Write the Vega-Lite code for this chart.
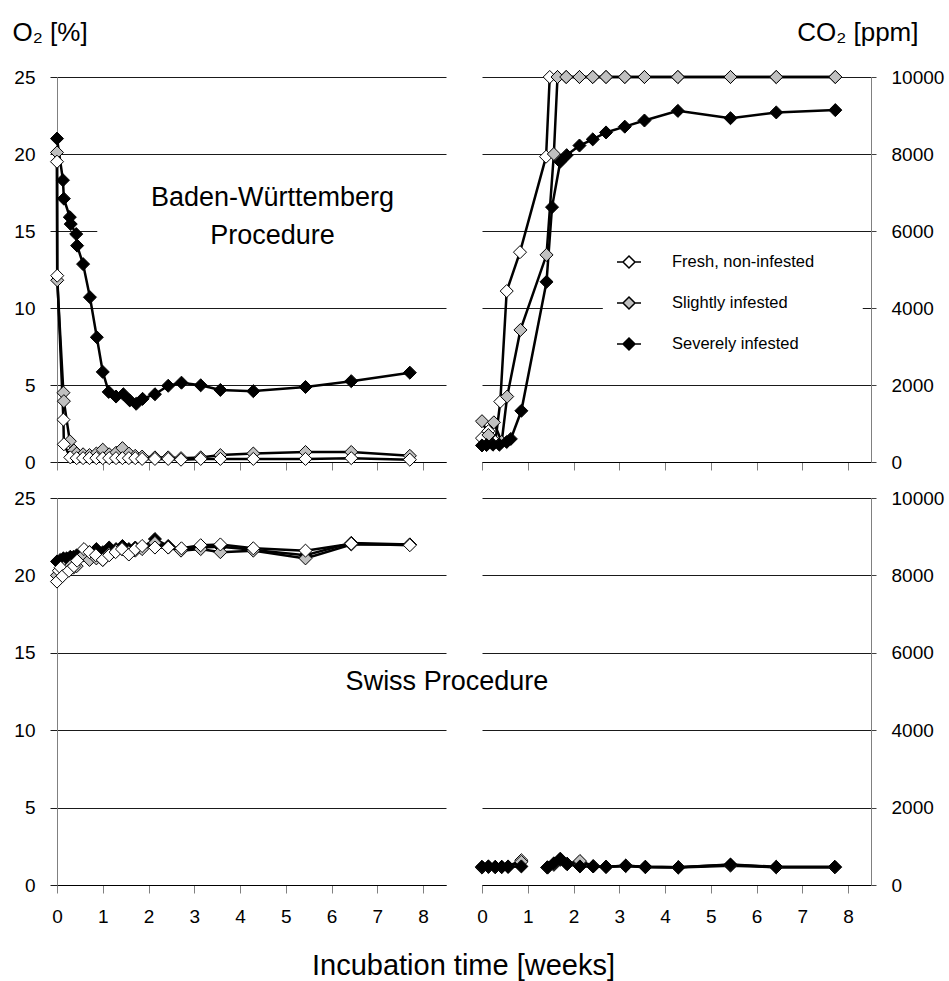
{
  "$schema": "https://vega.github.io/schema/vega-lite/v6.json",
  "padding": {"left": 12, "top": 19, "right": 2, "bottom": 2},
  "config": {
    "view": {"stroke": null},
    "font": "Liberation Sans, Arial, sans-serif",
    "axis": {
      "labelFont": "Liberation Sans, Arial, sans-serif",
      "titleFont": "Liberation Sans, Arial, sans-serif",
      "labelFontSize": 19, "labelColor": "black", "titleColor": "black", "titleFontWeight": "normal",
      "labelFlush": false, "labelOverlap": false, "grid": false,
      "domainColor": "#808080", "tickColor": "#808080", "gridColor": "#1a1a1a", "gridOpacity": 1,
      "domainWidth": 1, "tickWidth": 1, "gridWidth": 1
    }
  },
  "datasets": {
    "boxes": [
      {"panel": "BW_O2", "week": 0.88, "week2": 8.6, "value": 11.5, "value2": 19.2},
      {"panel": "BW_CO2", "week": 2.64, "week2": 8.32, "value": 2700, "value2": 5600}
    ],
    "notes": [
      {"panel": "BW_O2", "week": 4.71, "value": 17.14, "label": "Baden-Württemberg\nProcedure"},
      {"panel": "CH_O2", "week": 8.52, "value": 13.12, "label": "Swiss Procedure"}
    ],
    "obs": [
      {"panel":"BW_O2","series":"Severely infested","week":0,"value":21.0},
      {"panel":"BW_O2","series":"Severely infested","week":0.13,"value":18.3},
      {"panel":"BW_O2","series":"Severely infested","week":0.15,"value":17.1},
      {"panel":"BW_O2","series":"Severely infested","week":0.28,"value":15.9},
      {"panel":"BW_O2","series":"Severely infested","week":0.30,"value":15.45},
      {"panel":"BW_O2","series":"Severely infested","week":0.42,"value":14.8},
      {"panel":"BW_O2","series":"Severely infested","week":0.44,"value":14.05},
      {"panel":"BW_O2","series":"Severely infested","week":0.57,"value":12.85},
      {"panel":"BW_O2","series":"Severely infested","week":0.72,"value":10.7},
      {"panel":"BW_O2","series":"Severely infested","week":0.87,"value":8.1},
      {"panel":"BW_O2","series":"Severely infested","week":1.0,"value":5.85},
      {"panel":"BW_O2","series":"Severely infested","week":1.13,"value":4.55},
      {"panel":"BW_O2","series":"Severely infested","week":1.29,"value":4.25},
      {"panel":"BW_O2","series":"Severely infested","week":1.45,"value":4.4},
      {"panel":"BW_O2","series":"Severely infested","week":1.59,"value":4.0},
      {"panel":"BW_O2","series":"Severely infested","week":1.73,"value":3.78},
      {"panel":"BW_O2","series":"Severely infested","week":1.87,"value":4.1},
      {"panel":"BW_O2","series":"Severely infested","week":2.14,"value":4.4},
      {"panel":"BW_O2","series":"Severely infested","week":2.43,"value":4.95},
      {"panel":"BW_O2","series":"Severely infested","week":2.72,"value":5.15},
      {"panel":"BW_O2","series":"Severely infested","week":3.14,"value":4.98},
      {"panel":"BW_O2","series":"Severely infested","week":3.57,"value":4.68},
      {"panel":"BW_O2","series":"Severely infested","week":4.29,"value":4.6},
      {"panel":"BW_O2","series":"Severely infested","week":5.43,"value":4.87},
      {"panel":"BW_O2","series":"Severely infested","week":6.43,"value":5.25},
      {"panel":"BW_O2","series":"Severely infested","week":7.71,"value":5.8},

      {"panel":"BW_O2","series":"Slightly infested","week":0,"value":20.1},
      {"panel":"BW_O2","series":"Slightly infested","week":0.005,"value":11.8},
      {"panel":"BW_O2","series":"Slightly infested","week":0.14,"value":4.5},
      {"panel":"BW_O2","series":"Slightly infested","week":0.15,"value":3.95},
      {"panel":"BW_O2","series":"Slightly infested","week":0.28,"value":1.35},
      {"panel":"BW_O2","series":"Slightly infested","week":0.37,"value":0.75},
      {"panel":"BW_O2","series":"Slightly infested","week":0.43,"value":0.55},
      {"panel":"BW_O2","series":"Slightly infested","week":0.57,"value":0.5},
      {"panel":"BW_O2","series":"Slightly infested","week":0.71,"value":0.45},
      {"panel":"BW_O2","series":"Slightly infested","week":0.86,"value":0.55},
      {"panel":"BW_O2","series":"Slightly infested","week":1.0,"value":0.8},
      {"panel":"BW_O2","series":"Slightly infested","week":1.14,"value":0.5},
      {"panel":"BW_O2","series":"Slightly infested","week":1.29,"value":0.6},
      {"panel":"BW_O2","series":"Slightly infested","week":1.43,"value":0.9},
      {"panel":"BW_O2","series":"Slightly infested","week":1.57,"value":0.55},
      {"panel":"BW_O2","series":"Slightly infested","week":1.71,"value":0.4},
      {"panel":"BW_O2","series":"Slightly infested","week":1.86,"value":0.35},
      {"panel":"BW_O2","series":"Slightly infested","week":2.14,"value":0.3},
      {"panel":"BW_O2","series":"Slightly infested","week":2.43,"value":0.3},
      {"panel":"BW_O2","series":"Slightly infested","week":2.71,"value":0.25},
      {"panel":"BW_O2","series":"Slightly infested","week":3.14,"value":0.3},
      {"panel":"BW_O2","series":"Slightly infested","week":3.57,"value":0.45},
      {"panel":"BW_O2","series":"Slightly infested","week":4.29,"value":0.55},
      {"panel":"BW_O2","series":"Slightly infested","week":5.43,"value":0.65},
      {"panel":"BW_O2","series":"Slightly infested","week":6.43,"value":0.65},
      {"panel":"BW_O2","series":"Slightly infested","week":7.71,"value":0.4},

      {"panel":"BW_O2","series":"Fresh, non-infested","week":0,"value":19.5},
      {"panel":"BW_O2","series":"Fresh, non-infested","week":0.005,"value":12.1},
      {"panel":"BW_O2","series":"Fresh, non-infested","week":0.14,"value":2.75},
      {"panel":"BW_O2","series":"Fresh, non-infested","week":0.15,"value":1.15},
      {"panel":"BW_O2","series":"Fresh, non-infested","week":0.29,"value":0.3},
      {"panel":"BW_O2","series":"Fresh, non-infested","week":0.43,"value":0.25},
      {"panel":"BW_O2","series":"Fresh, non-infested","week":0.57,"value":0.25},
      {"panel":"BW_O2","series":"Fresh, non-infested","week":0.71,"value":0.25},
      {"panel":"BW_O2","series":"Fresh, non-infested","week":0.86,"value":0.25},
      {"panel":"BW_O2","series":"Fresh, non-infested","week":1.0,"value":0.25},
      {"panel":"BW_O2","series":"Fresh, non-infested","week":1.14,"value":0.25},
      {"panel":"BW_O2","series":"Fresh, non-infested","week":1.29,"value":0.25},
      {"panel":"BW_O2","series":"Fresh, non-infested","week":1.43,"value":0.25},
      {"panel":"BW_O2","series":"Fresh, non-infested","week":1.57,"value":0.25},
      {"panel":"BW_O2","series":"Fresh, non-infested","week":1.71,"value":0.25},
      {"panel":"BW_O2","series":"Fresh, non-infested","week":1.86,"value":0.2},
      {"panel":"BW_O2","series":"Fresh, non-infested","week":2.14,"value":0.2},
      {"panel":"BW_O2","series":"Fresh, non-infested","week":2.43,"value":0.2},
      {"panel":"BW_O2","series":"Fresh, non-infested","week":2.71,"value":0.15},
      {"panel":"BW_O2","series":"Fresh, non-infested","week":3.14,"value":0.2},
      {"panel":"BW_O2","series":"Fresh, non-infested","week":3.57,"value":0.2},
      {"panel":"BW_O2","series":"Fresh, non-infested","week":4.29,"value":0.2},
      {"panel":"BW_O2","series":"Fresh, non-infested","week":5.43,"value":0.2},
      {"panel":"BW_O2","series":"Fresh, non-infested","week":6.43,"value":0.25},
      {"panel":"BW_O2","series":"Fresh, non-infested","week":7.71,"value":0.15},

      {"panel":"BW_CO2","series":"Fresh, non-infested","week":0,"value":620},
      {"panel":"BW_CO2","series":"Fresh, non-infested","week":0.14,"value":800},
      {"panel":"BW_CO2","series":"Fresh, non-infested","week":0.29,"value":520},
      {"panel":"BW_CO2","series":"Fresh, non-infested","week":0.40,"value":1570},
      {"panel":"BW_CO2","series":"Fresh, non-infested","week":0.54,"value":4440},
      {"panel":"BW_CO2","series":"Fresh, non-infested","week":0.83,"value":5450},
      {"panel":"BW_CO2","series":"Fresh, non-infested","week":1.40,"value":7930},
      {"panel":"BW_CO2","series":"Fresh, non-infested","week":1.48,"value":10000},
      {"panel":"BW_CO2","series":"Fresh, non-infested","week":1.65,"value":10000},
      {"panel":"BW_CO2","series":"Fresh, non-infested","week":1.84,"value":10000},
      {"panel":"BW_CO2","series":"Fresh, non-infested","week":2.13,"value":10000},
      {"panel":"BW_CO2","series":"Fresh, non-infested","week":2.42,"value":10000},
      {"panel":"BW_CO2","series":"Fresh, non-infested","week":2.71,"value":10000},
      {"panel":"BW_CO2","series":"Fresh, non-infested","week":3.12,"value":10000},
      {"panel":"BW_CO2","series":"Fresh, non-infested","week":3.55,"value":10000},
      {"panel":"BW_CO2","series":"Fresh, non-infested","week":4.28,"value":10000},
      {"panel":"BW_CO2","series":"Fresh, non-infested","week":5.43,"value":10000},
      {"panel":"BW_CO2","series":"Fresh, non-infested","week":6.43,"value":10000},
      {"panel":"BW_CO2","series":"Fresh, non-infested","week":7.72,"value":10000},

      {"panel":"BW_CO2","series":"Slightly infested","week":0,"value":1060},
      {"panel":"BW_CO2","series":"Slightly infested","week":0.14,"value":700},
      {"panel":"BW_CO2","series":"Slightly infested","week":0.26,"value":1030},
      {"panel":"BW_CO2","series":"Slightly infested","week":0.43,"value":520},
      {"panel":"BW_CO2","series":"Slightly infested","week":0.55,"value":1700},
      {"panel":"BW_CO2","series":"Slightly infested","week":0.84,"value":3430},
      {"panel":"BW_CO2","series":"Slightly infested","week":1.41,"value":5380},
      {"panel":"BW_CO2","series":"Slightly infested","week":1.57,"value":8000},
      {"panel":"BW_CO2","series":"Slightly infested","week":1.65,"value":10000},
      {"panel":"BW_CO2","series":"Slightly infested","week":1.84,"value":10000},
      {"panel":"BW_CO2","series":"Slightly infested","week":2.13,"value":10000},
      {"panel":"BW_CO2","series":"Slightly infested","week":2.42,"value":10000},
      {"panel":"BW_CO2","series":"Slightly infested","week":2.71,"value":10000},
      {"panel":"BW_CO2","series":"Slightly infested","week":3.12,"value":10000},
      {"panel":"BW_CO2","series":"Slightly infested","week":3.55,"value":10000},
      {"panel":"BW_CO2","series":"Slightly infested","week":4.28,"value":10000},
      {"panel":"BW_CO2","series":"Slightly infested","week":5.43,"value":10000},
      {"panel":"BW_CO2","series":"Slightly infested","week":6.43,"value":10000},
      {"panel":"BW_CO2","series":"Slightly infested","week":7.72,"value":10000},

      {"panel":"BW_CO2","series":"Severely infested","week":0,"value":430},
      {"panel":"BW_CO2","series":"Severely infested","week":0.1,"value":440},
      {"panel":"BW_CO2","series":"Severely infested","week":0.24,"value":450},
      {"panel":"BW_CO2","series":"Severely infested","week":0.38,"value":450},
      {"panel":"BW_CO2","series":"Severely infested","week":0.54,"value":520},
      {"panel":"BW_CO2","series":"Severely infested","week":0.63,"value":600},
      {"panel":"BW_CO2","series":"Severely infested","week":0.86,"value":1330},
      {"panel":"BW_CO2","series":"Severely infested","week":1.41,"value":4680},
      {"panel":"BW_CO2","series":"Severely infested","week":1.53,"value":6620},
      {"panel":"BW_CO2","series":"Severely infested","week":1.71,"value":7800},
      {"panel":"BW_CO2","series":"Severely infested","week":1.85,"value":7970},
      {"panel":"BW_CO2","series":"Severely infested","week":2.13,"value":8220},
      {"panel":"BW_CO2","series":"Severely infested","week":2.42,"value":8380},
      {"panel":"BW_CO2","series":"Severely infested","week":2.71,"value":8560},
      {"panel":"BW_CO2","series":"Severely infested","week":3.12,"value":8710},
      {"panel":"BW_CO2","series":"Severely infested","week":3.55,"value":8870},
      {"panel":"BW_CO2","series":"Severely infested","week":4.28,"value":9120},
      {"panel":"BW_CO2","series":"Severely infested","week":5.43,"value":8930},
      {"panel":"BW_CO2","series":"Severely infested","week":6.43,"value":9080},
      {"panel":"BW_CO2","series":"Severely infested","week":7.72,"value":9140},

      {"panel":"CH_O2","series":"Severely infested","week":0,"value":20.9},
      {"panel":"CH_O2","series":"Severely infested","week":0.07,"value":21.0},
      {"panel":"CH_O2","series":"Severely infested","week":0.14,"value":21.1},
      {"panel":"CH_O2","series":"Severely infested","week":0.21,"value":21.1},
      {"panel":"CH_O2","series":"Severely infested","week":0.29,"value":21.2},
      {"panel":"CH_O2","series":"Severely infested","week":0.36,"value":21.2},
      {"panel":"CH_O2","series":"Severely infested","week":0.43,"value":21.3},
      {"panel":"CH_O2","series":"Severely infested","week":0.57,"value":21.5},
      {"panel":"CH_O2","series":"Severely infested","week":0.71,"value":21.5},
      {"panel":"CH_O2","series":"Severely infested","week":0.86,"value":21.7},
      {"panel":"CH_O2","series":"Severely infested","week":1.0,"value":21.5},
      {"panel":"CH_O2","series":"Severely infested","week":1.14,"value":21.8},
      {"panel":"CH_O2","series":"Severely infested","week":1.29,"value":21.7},
      {"panel":"CH_O2","series":"Severely infested","week":1.43,"value":21.9},
      {"panel":"CH_O2","series":"Severely infested","week":1.57,"value":21.7},
      {"panel":"CH_O2","series":"Severely infested","week":1.71,"value":21.8},
      {"panel":"CH_O2","series":"Severely infested","week":1.86,"value":21.8},
      {"panel":"CH_O2","series":"Severely infested","week":2.14,"value":22.35},
      {"panel":"CH_O2","series":"Severely infested","week":2.43,"value":21.9},
      {"panel":"CH_O2","series":"Severely infested","week":2.71,"value":21.7},
      {"panel":"CH_O2","series":"Severely infested","week":3.14,"value":21.8},
      {"panel":"CH_O2","series":"Severely infested","week":3.57,"value":21.85},
      {"panel":"CH_O2","series":"Severely infested","week":4.29,"value":21.65},
      {"panel":"CH_O2","series":"Severely infested","week":5.43,"value":21.3},
      {"panel":"CH_O2","series":"Severely infested","week":6.43,"value":22.1},
      {"panel":"CH_O2","series":"Severely infested","week":7.71,"value":22.0},

      {"panel":"CH_O2","series":"Slightly infested","week":0,"value":20.0},
      {"panel":"CH_O2","series":"Slightly infested","week":0.07,"value":20.3},
      {"panel":"CH_O2","series":"Slightly infested","week":0.14,"value":20.5},
      {"panel":"CH_O2","series":"Slightly infested","week":0.21,"value":20.3},
      {"panel":"CH_O2","series":"Slightly infested","week":0.29,"value":20.6},
      {"panel":"CH_O2","series":"Slightly infested","week":0.36,"value":20.5},
      {"panel":"CH_O2","series":"Slightly infested","week":0.43,"value":20.6},
      {"panel":"CH_O2","series":"Slightly infested","week":0.57,"value":21.3},
      {"panel":"CH_O2","series":"Slightly infested","week":0.71,"value":21.0},
      {"panel":"CH_O2","series":"Slightly infested","week":0.86,"value":21.1},
      {"panel":"CH_O2","series":"Slightly infested","week":1.0,"value":21.0},
      {"panel":"CH_O2","series":"Slightly infested","week":1.14,"value":21.4},
      {"panel":"CH_O2","series":"Slightly infested","week":1.29,"value":21.6},
      {"panel":"CH_O2","series":"Slightly infested","week":1.43,"value":21.7},
      {"panel":"CH_O2","series":"Slightly infested","week":1.57,"value":21.5},
      {"panel":"CH_O2","series":"Slightly infested","week":1.71,"value":21.6},
      {"panel":"CH_O2","series":"Slightly infested","week":1.86,"value":21.7},
      {"panel":"CH_O2","series":"Slightly infested","week":2.14,"value":22.1},
      {"panel":"CH_O2","series":"Slightly infested","week":2.43,"value":21.8},
      {"panel":"CH_O2","series":"Slightly infested","week":2.71,"value":21.6},
      {"panel":"CH_O2","series":"Slightly infested","week":3.14,"value":21.7},
      {"panel":"CH_O2","series":"Slightly infested","week":3.57,"value":21.5},
      {"panel":"CH_O2","series":"Slightly infested","week":4.29,"value":21.6},
      {"panel":"CH_O2","series":"Slightly infested","week":5.43,"value":21.1},
      {"panel":"CH_O2","series":"Slightly infested","week":6.43,"value":22.0},
      {"panel":"CH_O2","series":"Slightly infested","week":7.71,"value":22.0},

      {"panel":"CH_O2","series":"Fresh, non-infested","week":0,"value":19.6},
      {"panel":"CH_O2","series":"Fresh, non-infested","week":0.04,"value":20.3},
      {"panel":"CH_O2","series":"Fresh, non-infested","week":0.08,"value":20.5},
      {"panel":"CH_O2","series":"Fresh, non-infested","week":0.12,"value":19.95},
      {"panel":"CH_O2","series":"Fresh, non-infested","week":0.26,"value":20.3},
      {"panel":"CH_O2","series":"Fresh, non-infested","week":0.37,"value":20.6},
      {"panel":"CH_O2","series":"Fresh, non-infested","week":0.44,"value":20.95},
      {"panel":"CH_O2","series":"Fresh, non-infested","week":0.59,"value":21.7},
      {"panel":"CH_O2","series":"Fresh, non-infested","week":0.71,"value":21.5},
      {"panel":"CH_O2","series":"Fresh, non-infested","week":0.85,"value":21.3},
      {"panel":"CH_O2","series":"Fresh, non-infested","week":1.0,"value":21.0},
      {"panel":"CH_O2","series":"Fresh, non-infested","week":1.14,"value":21.3},
      {"panel":"CH_O2","series":"Fresh, non-infested","week":1.28,"value":21.5},
      {"panel":"CH_O2","series":"Fresh, non-infested","week":1.42,"value":21.7},
      {"panel":"CH_O2","series":"Fresh, non-infested","week":1.57,"value":21.35},
      {"panel":"CH_O2","series":"Fresh, non-infested","week":1.71,"value":21.7},
      {"panel":"CH_O2","series":"Fresh, non-infested","week":1.86,"value":21.9},
      {"panel":"CH_O2","series":"Fresh, non-infested","week":2.14,"value":21.8},
      {"panel":"CH_O2","series":"Fresh, non-infested","week":2.43,"value":21.8},
      {"panel":"CH_O2","series":"Fresh, non-infested","week":2.72,"value":21.75},
      {"panel":"CH_O2","series":"Fresh, non-infested","week":3.14,"value":21.95},
      {"panel":"CH_O2","series":"Fresh, non-infested","week":3.57,"value":22.0},
      {"panel":"CH_O2","series":"Fresh, non-infested","week":4.29,"value":21.75},
      {"panel":"CH_O2","series":"Fresh, non-infested","week":5.43,"value":21.6},
      {"panel":"CH_O2","series":"Fresh, non-infested","week":6.43,"value":22.05},
      {"panel":"CH_O2","series":"Fresh, non-infested","week":7.71,"value":21.95},

      {"panel":"CH_CO2","series":"Fresh, non-infested","part":1,"week":0,"value":450},
      {"panel":"CH_CO2","series":"Fresh, non-infested","part":1,"week":0.14,"value":470},
      {"panel":"CH_CO2","series":"Fresh, non-infested","part":1,"week":0.29,"value":460},
      {"panel":"CH_CO2","series":"Fresh, non-infested","part":1,"week":0.43,"value":470},
      {"panel":"CH_CO2","series":"Fresh, non-infested","part":1,"week":0.57,"value":480},
      {"panel":"CH_CO2","series":"Fresh, non-infested","part":1,"week":0.86,"value":640},
      {"panel":"CH_CO2","series":"Fresh, non-infested","part":2,"week":1.43,"value":450},
      {"panel":"CH_CO2","series":"Fresh, non-infested","part":2,"week":1.57,"value":520},
      {"panel":"CH_CO2","series":"Fresh, non-infested","part":2,"week":1.71,"value":650},
      {"panel":"CH_CO2","series":"Fresh, non-infested","part":2,"week":1.86,"value":540},
      {"panel":"CH_CO2","series":"Fresh, non-infested","part":2,"week":2.14,"value":600},
      {"panel":"CH_CO2","series":"Fresh, non-infested","part":2,"week":2.43,"value":480},
      {"panel":"CH_CO2","series":"Fresh, non-infested","part":2,"week":2.71,"value":470},
      {"panel":"CH_CO2","series":"Fresh, non-infested","part":2,"week":3.14,"value":490},
      {"panel":"CH_CO2","series":"Fresh, non-infested","part":2,"week":3.57,"value":460},
      {"panel":"CH_CO2","series":"Fresh, non-infested","part":2,"week":4.29,"value":450},
      {"panel":"CH_CO2","series":"Fresh, non-infested","part":2,"week":5.43,"value":500},
      {"panel":"CH_CO2","series":"Fresh, non-infested","part":2,"week":6.43,"value":460},
      {"panel":"CH_CO2","series":"Fresh, non-infested","part":2,"week":7.71,"value":460},

      {"panel":"CH_CO2","series":"Slightly infested","part":1,"week":0,"value":460},
      {"panel":"CH_CO2","series":"Slightly infested","part":1,"week":0.14,"value":470},
      {"panel":"CH_CO2","series":"Slightly infested","part":1,"week":0.29,"value":460},
      {"panel":"CH_CO2","series":"Slightly infested","part":1,"week":0.43,"value":460},
      {"panel":"CH_CO2","series":"Slightly infested","part":1,"week":0.57,"value":470},
      {"panel":"CH_CO2","series":"Slightly infested","part":1,"week":0.86,"value":600},
      {"panel":"CH_CO2","series":"Slightly infested","part":2,"week":1.43,"value":450},
      {"panel":"CH_CO2","series":"Slightly infested","part":2,"week":1.57,"value":540},
      {"panel":"CH_CO2","series":"Slightly infested","part":2,"week":1.71,"value":660},
      {"panel":"CH_CO2","series":"Slightly infested","part":2,"week":1.86,"value":550},
      {"panel":"CH_CO2","series":"Slightly infested","part":2,"week":2.14,"value":620},
      {"panel":"CH_CO2","series":"Slightly infested","part":2,"week":2.43,"value":490},
      {"panel":"CH_CO2","series":"Slightly infested","part":2,"week":2.71,"value":470},
      {"panel":"CH_CO2","series":"Slightly infested","part":2,"week":3.14,"value":500},
      {"panel":"CH_CO2","series":"Slightly infested","part":2,"week":3.57,"value":470},
      {"panel":"CH_CO2","series":"Slightly infested","part":2,"week":4.29,"value":460},
      {"panel":"CH_CO2","series":"Slightly infested","part":2,"week":5.43,"value":520},
      {"panel":"CH_CO2","series":"Slightly infested","part":2,"week":6.43,"value":460},
      {"panel":"CH_CO2","series":"Slightly infested","part":2,"week":7.71,"value":460},

      {"panel":"CH_CO2","series":"Severely infested","part":1,"week":0,"value":470},
      {"panel":"CH_CO2","series":"Severely infested","part":1,"week":0.14,"value":480},
      {"panel":"CH_CO2","series":"Severely infested","part":1,"week":0.29,"value":470},
      {"panel":"CH_CO2","series":"Severely infested","part":1,"week":0.43,"value":470},
      {"panel":"CH_CO2","series":"Severely infested","part":1,"week":0.57,"value":470},
      {"panel":"CH_CO2","series":"Severely infested","part":1,"week":0.86,"value":480},
      {"panel":"CH_CO2","series":"Severely infested","part":2,"week":1.43,"value":460},
      {"panel":"CH_CO2","series":"Severely infested","part":2,"week":1.57,"value":560},
      {"panel":"CH_CO2","series":"Severely infested","part":2,"week":1.71,"value":680},
      {"panel":"CH_CO2","series":"Severely infested","part":2,"week":1.86,"value":540},
      {"panel":"CH_CO2","series":"Severely infested","part":2,"week":2.14,"value":480},
      {"panel":"CH_CO2","series":"Severely infested","part":2,"week":2.43,"value":480},
      {"panel":"CH_CO2","series":"Severely infested","part":2,"week":2.71,"value":470},
      {"panel":"CH_CO2","series":"Severely infested","part":2,"week":3.14,"value":500},
      {"panel":"CH_CO2","series":"Severely infested","part":2,"week":3.57,"value":470},
      {"panel":"CH_CO2","series":"Severely infested","part":2,"week":4.29,"value":460},
      {"panel":"CH_CO2","series":"Severely infested","part":2,"week":5.43,"value":530},
      {"panel":"CH_CO2","series":"Severely infested","part":2,"week":6.43,"value":470},
      {"panel":"CH_CO2","series":"Severely infested","part":2,"week":7.71,"value":470}
    ]
  },
  "resolve": {"scale": {"fill": "independent"}, "legend": {"fill": "independent"}},
  "columns": 2,
  "bounds": "flush",
  "spacing": {"row": 36, "column": 36},
  "concat": [
    {
      "width": 389, "height": 385,
      "encoding": {
        "x": {"field": "week", "type": "quantitative", "scale": {"domain": [0, 8.5], "nice": false, "zero": false},
          "axis": {"values": [0,1,2,3,4,5,6,7,8], "labels": false, "title": null, "tickSize": 8, "domainColor": "black", "tickColor": "#808080"}},
        "y": {"field": "value", "type": "quantitative", "scale": {"domain": [0, 25], "nice": false},
          "axis": {"values": [0,5,10,15,20,25], "grid": true, "tickSize": 7, "tickColor": "#1a1a1a", "labelPadding": 15,
            "title": "O₂ [%]", "titleAngle": 0, "titleX": -45, "titleY": -37, "titleAlign": "left", "titleBaseline": "alphabetic", "titleFontSize": 26}}
      },
      "layer": [
        {"data": {"name": "boxes"}, "transform": [{"filter": "datum.panel === 'BW_O2'"}],
          "mark": {"type": "rect", "fill": "white"}, "encoding": {"x2": {"field": "week2"}, "y2": {"field": "value2"}}},
        {"data": {"name": "notes"}, "transform": [{"filter": "datum.panel === 'BW_O2'"}],
          "mark": {"type": "text", "fontSize": 27, "lineBreak": "\n", "lineHeight": 37.5, "align": "center", "baseline": "middle", "color": "black"},
          "encoding": {"text": {"field": "label"}}},
        {"data": {"name": "obs"}, "transform": [{"filter": "datum.panel === 'BW_O2'"}],
          "mark": {"type": "line", "color": "black", "strokeWidth": 2.5}, "encoding": {"detail": {"field": "series"}}},
        {"data": {"name": "obs"}, "transform": [{"filter": "datum.panel === 'BW_O2'"}],
          "mark": {"type": "point", "shape": "diamond", "filled": true, "stroke": "black", "strokeWidth": 1, "size": 170, "opacity": 1},
          "encoding": {"fill": {"field": "series", "type": "nominal",
            "scale": {"domain": ["Fresh, non-infested", "Slightly infested", "Severely infested"], "range": ["white", "#c0c0c0", "black"]}, "legend": null}}}
      ]
    },
    {
      "width": 389, "height": 385,
      "encoding": {
        "x": {"field": "week", "type": "quantitative", "scale": {"domain": [0, 8.5], "nice": false, "zero": false},
          "axis": {"values": [0,1,2,3,4,5,6,7,8], "labels": false, "title": null, "tickSize": 8, "domainColor": "black", "tickColor": "#808080"}},
        "y": {"field": "value", "type": "quantitative", "scale": {"domain": [0, 10000], "nice": false},
          "axis": {"orient": "right", "values": [0,2000,4000,6000,8000,10000], "format": "d", "grid": true, "tickSize": 5, "tickColor": "#404040", "labelPadding": 15,
            "title": "CO₂ [ppm]", "titleAngle": 0, "titleX": 47, "titleY": -37, "titleAlign": "right", "titleBaseline": "alphabetic", "titleFontSize": 26}}
      },
      "layer": [
        {"data": {"name": "boxes"}, "transform": [{"filter": "datum.panel === 'BW_CO2'"}],
          "mark": {"type": "rect", "fill": "white"}, "encoding": {"x2": {"field": "week2"}, "y2": {"field": "value2"}}},
        {"data": {"name": "obs"}, "transform": [{"filter": "datum.panel === 'BW_CO2'"}],
          "mark": {"type": "line", "color": "black", "strokeWidth": 2.5}, "encoding": {"detail": {"field": "series"}}},
        {"data": {"name": "obs"}, "transform": [{"filter": "datum.panel === 'BW_CO2'"}],
          "mark": {"type": "point", "shape": "diamond", "filled": true, "stroke": "black", "strokeWidth": 1, "size": 170, "opacity": 1},
          "encoding": {"fill": {"field": "series", "type": "nominal",
            "scale": {"domain": ["Fresh, non-infested", "Slightly infested", "Severely infested"], "range": ["white", "#c0c0c0", "black"]},
            "legend": {"orient": "none", "legendX": 121, "legendY": 159, "title": null, "direction": "vertical",
              "symbolType": "M-1,0L-0.5,0M0.5,0L1,0M0,-0.5L0.5,0L0,0.5L-0.5,0Z", "symbolSize": 576,
              "symbolStrokeColor": "black", "symbolStrokeWidth": 1.5, "symbolOpacity": 1,
              "labelFont": "Liberation Sans, Arial, sans-serif", "labelFontSize": 16.5, "labelColor": "black",
              "labelOffset": 30, "rowPadding": 19, "padding": 13}}}}
      ]
    },
    {
      "width": 389, "height": 387,
      "encoding": {
        "x": {"field": "week", "type": "quantitative", "scale": {"domain": [0, 8.5], "nice": false, "zero": false},
          "axis": {"values": [0,1,2,3,4,5,6,7,8], "tickSize": 8, "labelPadding": 14, "domainColor": "black", "tickColor": "#808080",
            "title": "Incubation time [weeks]", "titleX": 406, "titleY": 89, "titleAlign": "center", "titleBaseline": "alphabetic", "titleFontSize": 29}},
        "y": {"field": "value", "type": "quantitative", "scale": {"domain": [0, 25], "nice": false},
          "axis": {"values": [0,5,10,15,20,25], "grid": true, "tickSize": 7, "tickColor": "#1a1a1a", "labelPadding": 15, "title": null}}
      },
      "layer": [
        {"data": {"name": "notes"}, "transform": [{"filter": "datum.panel === 'CH_O2'"}],
          "mark": {"type": "text", "fontSize": 27, "align": "center", "baseline": "middle", "color": "black"},
          "encoding": {"text": {"field": "label"}}},
        {"data": {"name": "obs"}, "transform": [{"filter": "datum.panel === 'CH_O2'"}],
          "mark": {"type": "line", "color": "black", "strokeWidth": 2.5}, "encoding": {"detail": {"field": "series"}}},
        {"data": {"name": "obs"}, "transform": [{"filter": "datum.panel === 'CH_O2'"}],
          "mark": {"type": "point", "shape": "diamond", "filled": true, "stroke": "black", "strokeWidth": 1, "size": 170, "opacity": 1},
          "encoding": {"fill": {"field": "series", "type": "nominal",
            "scale": {"domain": ["Fresh, non-infested", "Slightly infested", "Severely infested"], "range": ["white", "#c0c0c0", "black"]}, "legend": null}}}
      ]
    },
    {
      "width": 389, "height": 387,
      "encoding": {
        "x": {"field": "week", "type": "quantitative", "scale": {"domain": [0, 8.5], "nice": false, "zero": false},
          "axis": {"values": [0,1,2,3,4,5,6,7,8], "tickSize": 8, "labelPadding": 14, "domainColor": "black", "tickColor": "#808080", "title": null}},
        "y": {"field": "value", "type": "quantitative", "scale": {"domain": [0, 10000], "nice": false},
          "axis": {"orient": "right", "values": [0,2000,4000,6000,8000,10000], "format": "d", "grid": true, "tickSize": 5, "tickColor": "#404040", "labelPadding": 15, "title": null}}
      },
      "layer": [
        {"data": {"name": "obs"}, "transform": [{"filter": "datum.panel === 'CH_CO2'"}],
          "mark": {"type": "line", "color": "black", "strokeWidth": 2.5}, "encoding": {"detail": [{"field": "series"}, {"field": "part"}]}},
        {"data": {"name": "obs"}, "transform": [{"filter": "datum.panel === 'CH_CO2'"}],
          "mark": {"type": "point", "shape": "diamond", "filled": true, "stroke": "black", "strokeWidth": 1, "size": 170, "opacity": 1},
          "encoding": {"fill": {"field": "series", "type": "nominal",
            "scale": {"domain": ["Fresh, non-infested", "Slightly infested", "Severely infested"], "range": ["white", "#c0c0c0", "black"]}, "legend": null}}}
      ]
    }
  ]
}
